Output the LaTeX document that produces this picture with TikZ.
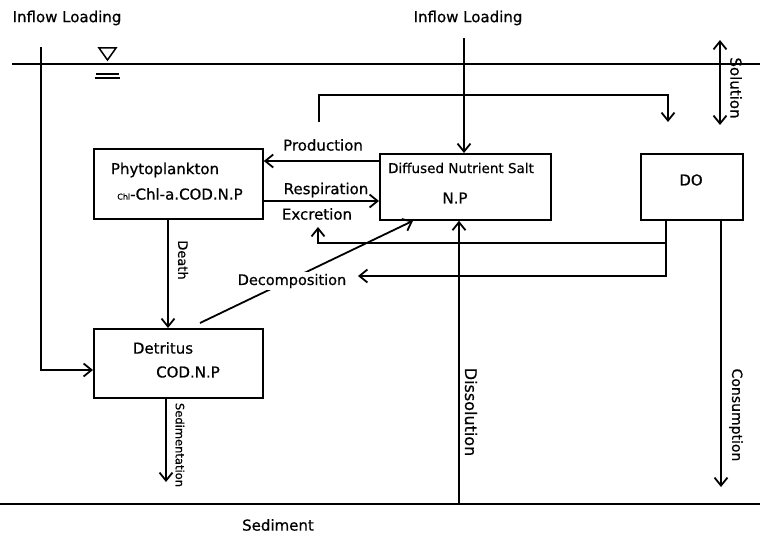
\documentclass[tikz,border=0pt]{standalone}
\usepackage{fontspec}
\setmainfont{DejaVu Sans}[UprightFeatures={FakeBold=0.6}]
\usetikzlibrary{arrows.meta,calc}
\begin{document}
\begin{tikzpicture}[x=1pt,y=-1pt, line width=1.8pt,
  box/.style={draw, anchor=north west, inner sep=0pt},
  tip/.tip={Straight Barb[length=8pt,width=13pt,line width=1.8pt]},
  arr/.style={-tip},
  txt/.style={inner sep=0pt, font=\fontsize{15}{17}\selectfont},
  vtxt/.style={txt, rotate=-90}]
\useasboundingbox (0,0) rectangle (760,534);
% boxes
\node[box, minimum width=169pt, minimum height=70pt] (phy) at (93,148) {};
\node[box, minimum width=171pt, minimum height=66pt] (np) at (379,153) {};
\node[box, minimum width=102pt, minimum height=66pt] (do) at (640,153) {};
\node[box, minimum width=169pt, minimum height=69pt] (det) at (93,328) {};
% box texts
\node[txt] (tphy) at (165,170) {Phytoplankton};
\node[txt] (tphy2) at (180,194) {{\fontsize{8}{8}\selectfont Chl}-Chl-a.COD.N.P};
\node[txt, font=\fontsize{13.5}{15}\selectfont] (tnp) at (461,168) {Diffused Nutrient Salt};
\node[txt] (tnp2) at (455,198) {N.P};
\node[txt] (tdo) at (691,180) {DO};
\node[txt] (tdet) at (163,348) {Detritus};
\node[txt] (tdet2) at (188,372) {COD.N.P};
% surface and bottom
\coordinate (s1) at (12,64); \coordinate (s2) at (760,64);
\draw (s1) -- (s2);
\coordinate (b1) at (0,504); \coordinate (b2) at (760,504);
\draw (b1) -- (b2);
% water level symbol
\draw[line width=1.5pt] (99,48) -- (116,48) -- (107.5,60) -- cycle;
\draw[line width=1.5pt] (96,74) -- (119,74);
\draw[line width=1.5pt] (95,78) -- (120,78);
% inflow loading left
\node[txt] (inl) at (67,18) {Inflow Loading};
\coordinate (inlTop) at (41,47);
\draw[arr] (inlTop) |- ($(det.north west)+(0,42)$);
% inflow loading centre
\node[txt] (inc) at (468,18) {Inflow Loading};
\coordinate (incTop) at (464,38);
\draw[arr] (incTop) -- (incTop |- np.north);
% loop arrow
\coordinate (lpA) at (319,122); \coordinate (lpB) at (668,95); \coordinate (lpC) at (668,122);
\draw[arr] (lpA) |- (lpB) -- (lpC);
% solution
\coordinate (solA) at (720,40); \coordinate (solB) at (720,125);
\draw[tip-tip] (solA) -- (solB);
\node[vtxt] (tsol) at (736,88) {Solution};
% production / respiration
\draw[arr] ($(np.north west)+(0,8)$) -- ($(phy.north east)+(0,13)$);
\draw[arr] ($(phy.north east)+(0,53)$) -- ($(np.north west)+(0,48)$);
\node[txt] (tprod) at (323,145) {Production};
\node[txt] (tresp) at (326,190) {Respiration};
\node[txt] (texc) at (317,214) {Excretion};
% DO returns
\coordinate (exA) at (318,243); \coordinate (exB) at (318,227);
\draw[arr] ($(do.south west)+(26,0)$) |- (exA) -- (exB);
\coordinate (dcA) at (358,276);
\draw[arr] ($(do.south west)+(26,0)$) |- (dcA);
% consumption
\coordinate (conB) at (721,487);
\draw[arr] ($(do.south west)+(81,0)$) -- (conB);
\node[vtxt, font=\fontsize{14}{16}\selectfont] (tcon) at (736,415) {Consumption};
% dissolution
\coordinate (disA) at (459,504);
\draw[arr] (disA) -- (disA |- np.south);
\node[vtxt, font=\fontsize{16}{18}\selectfont] (tdis) at (471,412) {Dissolution};
% death
\draw[arr] ($(phy.south west)+(75,0)$) -- ($(det.north west)+(75,0)$);
\node[vtxt, font=\fontsize{13}{15}\selectfont] (tdeath) at (183,260) {Death};
% sedimentation
\coordinate (sedB) at (166,482);
\draw[arr] ($(det.south west)+(73,0)$) -- (sedB);
\node[vtxt, font=\fontsize{11.5}{13}\selectfont] (tsed) at (180,445) {Sedimentation};
% decomposition
\coordinate (decA) at (200,323);
\draw[arr] (decA) -- ($(np.south west)+(34,0)$);
\node[txt, fill=white, inner sep=2pt, font=\fontsize{14.5}{16}\selectfont] (tdec) at (292,281) {Decomposition};
% sediment
\node[txt] (tsedim) at (278,525) {Sediment};
\end{tikzpicture}
\end{document}
